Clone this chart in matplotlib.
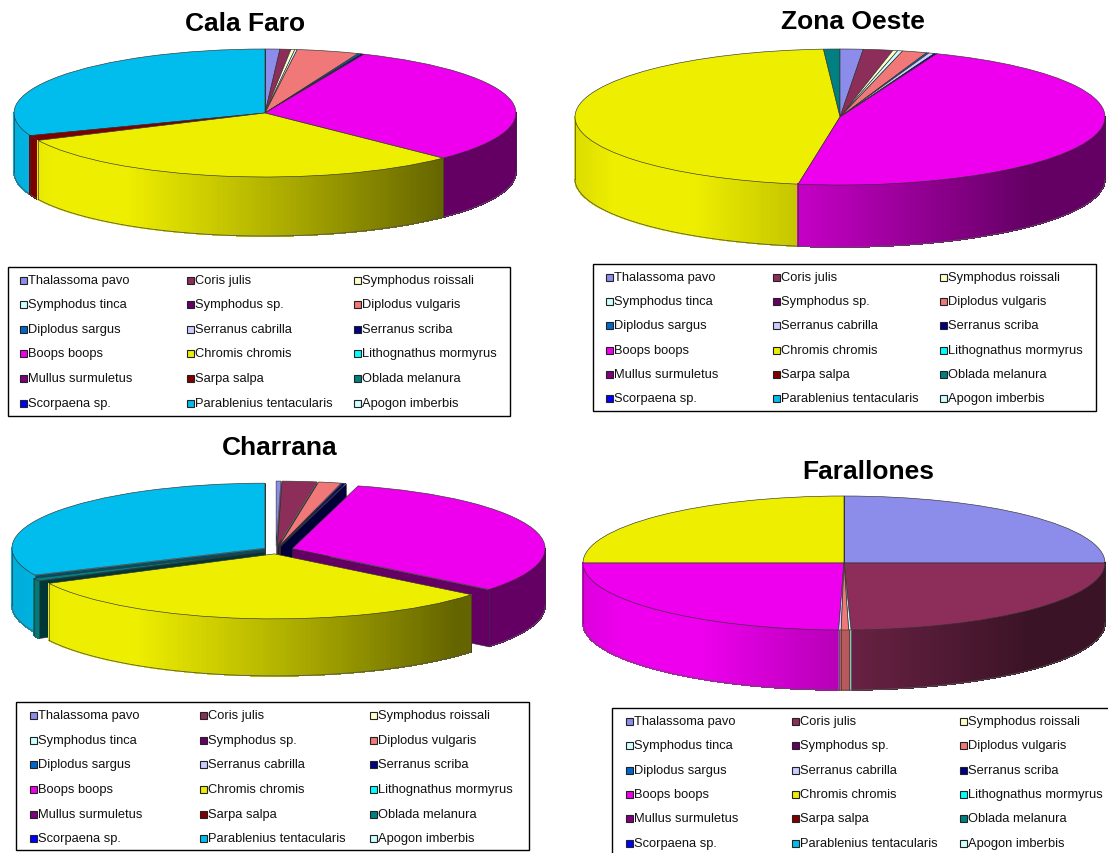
import numpy as np
import matplotlib
matplotlib.use("Agg")
import matplotlib.pyplot as plt
from matplotlib.collections import PolyCollection
from matplotlib.patches import Rectangle

plt.rcParams["font.family"] = ["Liberation Sans", "DejaVu Sans"]

W, H = 1108, 854

species = ["Thalassoma pavo", "Coris julis", "Symphodus roissali",
           "Symphodus tinca", "Symphodus sp.", "Diplodus vulgaris",
           "Diplodus sargus", "Serranus cabrilla", "Serranus scriba",
           "Boops boops", "Chromis chromis", "Lithognathus mormyrus",
           "Mullus surmuletus", "Sarpa salpa", "Oblada melanura",
           "Scorpaena sp.", "Parablenius tentacularis", "Apogon imberbis"]
colors = ["#8C8CEB", "#8C2D5A", "#FFFFCC", "#CCFFFF", "#660066", "#F07878",
          "#0066CC", "#CCCCFF", "#000080", "#EE00EE", "#EEEE00", "#00FFFF",
          "#800080", "#800000", "#008080", "#0000FF", "#00BDEE", "#CCFFFF"]

# percentages, same order as species
cala_faro = [0.95, 0.7, 0.25, 0.15, 0, 4.0, 0.2, 0.05, 0.15, 31.0, 30.5, 0, 0, 1.3, 0, 0, 30.75, 0]
zona_oeste = [1.4, 1.8, 0.3, 0.3, 0, 1.5, 0.15, 0.35, 0.15, 46.6, 46.5, 0, 0, 0, 1.0, 0, 0, 0]
charrana = [0.3, 2.2, 0, 0, 0, 1.45, 0, 0.05, 0.2, 31.6, 31.7, 0, 0, 0, 0.7, 0, 31.8, 0]
farallones = [25.0, 24.57, 0, 0.15, 0, 0.45, 0, 0.16, 0, 24.67, 25.0, 0, 0, 0, 0, 0, 0, 0]

charrana_explode = [0.06, 0.06, 0, 0, 0, 0.06, 0, 0.06, 0.06, 0.067, 0.06, 0, 0, 0, 0.052, 0, 0.052, 0]

# layout in pixels: centre x, centre y, radius x, radius y, depth
panels = [
    ("Cala Faro", cala_faro, None, (265, 114, 251, 64, 59), (245, 24),
     (8, 268, 510, 417), (23, 190, 357), (281, 305, 330, 354, 379, 404)),
    ("Zona Oeste", zona_oeste, None, (840, 118, 265, 68, 62), (853, 22),
     (593, 265, 1096, 412), (609, 776, 943), (278, 302, 326, 351, 375, 399)),
    ("Charrana", charrana, charrana_explode, (276, 551, 253, 65, 57), (280, 448),
     (16, 703, 529, 851), (33, 203, 373), (716, 741, 765, 790, 815, 839)),
    ("Farallones", farallones, None, (844, 564, 261, 67, 60), (868, 472),
     (612, 709, 1112, 858), (629, 795, 963), (722, 746, 771, 795, 819, 844)),
]


# side walls go from lit on the left to dark on the right
def shade(u):
    return np.interp(u, [-1.0, -0.85, -0.55, 0.0, 0.72, 1.0], [0.92, 1.0, 1.0, 0.76, 0.42, 0.42])


def draw_pie(fig, values, explode, geom):
    cx, cy, rx, ry, depth = geom
    xlim, ylim = 1.3, 1.3
    d = depth / ry
    ylow = -1.3 - d
    left = (cx - xlim * rx) / W
    bottom = 1 - (cy - ylow * ry) / H
    ax = fig.add_axes([left, bottom, 2 * xlim * rx / W, (ylim - ylow) * ry / H])

    vals = np.array(values, dtype=float)
    keep = vals > 0
    cols = [c for c, k in zip(colors, keep) if k]
    expl = None if explode is None else np.array(explode)[keep]
    wedges, _ = ax.pie(vals[keep], colors=cols, explode=expl, startangle=90,
                       counterclock=False, normalize=True,
                       wedgeprops=dict(edgecolor="#333333", linewidth=0.45))
    ax.set_aspect("auto")
    ax.set_xlim(-xlim, xlim)
    ax.set_ylim(ylow, ylim)
    ax.patch.set_alpha(0)

    # back wedges first, so nearer ones paint over them
    order = sorted(wedges, key=lambda w: -np.sin(np.radians((w.theta1 + w.theta2) / 2)))
    z = 2
    for w in order:
        x0, y0 = w.center
        base = np.array(matplotlib.colors.to_rgb(w.get_facecolor()))
        t1, t2 = np.radians(w.theta1), np.radians(w.theta2)

        # radial cut faces, only the ones turned to the viewer
        for t, sign in ((t1, 1), (t2, -1)):
            if sign * np.cos(t) <= 0:
                continue
            px, py = x0 + np.cos(t), y0 + np.sin(t)
            face = [[(x0, y0), (px, py), (px, py - d), (x0, y0 - d)]]
            ax.add_collection(PolyCollection(face, facecolors=[base * 0.42], edgecolors="#333333",
                                             linewidths=0.4, zorder=z))
            z += 1

        # outer wall, lower half of the rim only, cut in thin strips
        ts = np.linspace(t1, t2, max(2, int(np.degrees(t2 - t1) / 1.0) + 2))
        strips, fc = [], []
        for a, b in zip(ts[:-1], ts[1:]):
            if np.sin((a + b) / 2) > 0:
                continue
            xa, ya = x0 + np.cos(a), y0 + np.sin(a)
            xb, yb = x0 + np.cos(b), y0 + np.sin(b)
            strips.append([(xa, ya), (xb, yb), (xb, yb - d), (xa, ya - d)])
            fc.append(base * shade((xa + xb) / 2))
        if strips:
            ax.add_collection(PolyCollection(strips, facecolors=fc, edgecolors=fc, linewidths=0.6,
                                             antialiaseds=False, zorder=z))
            z += 1
            xs = [s[0][0] for s in strips] + [strips[-1][1][0]]
            ys = [s[0][1] - d for s in strips] + [strips[-1][1][1] - d]
            ax.plot(xs, ys, color="#555555", lw=0.6, zorder=z)
            ax.plot([xs[0], xs[0]], [ys[0], ys[0] + d], color="#333333", lw=0.45, zorder=z)
            ax.plot([xs[-1], xs[-1]], [ys[-1], ys[-1] + d], color="#333333", lw=0.45, zorder=z)
            z += 1

        w.set_zorder(z)
        z += 1


def draw_legend(ax, box, col_x, row_y):
    x0, y0, x1, y1 = box
    ax.add_patch(Rectangle((x0, y0), x1 - x0, y1 - y0, fc="white", ec="black", lw=1.0, zorder=1))
    for i, (name, col) in enumerate(zip(species, colors)):
        x = col_x[i % 3]
        y = row_y[i // 3]
        ax.add_patch(Rectangle((x - 3.5, y - 3.5), 7, 7, fc=col, ec="#222222", lw=0.8, zorder=2))
        ax.text(x + 5, y, name, fontsize=9.25, va="center", ha="left", color="#111111", zorder=3)


fig = plt.figure(figsize=(W / 100, H / 100), dpi=100)

page = fig.add_axes([0, 0, 1, 1])
page.set_xlim(0, W)
page.set_ylim(H, 0)
page.axis("off")

for title, values, explode, geom, title_xy, box, col_x, row_y in panels:
    draw_pie(fig, values, explode, geom)
    page.text(title_xy[0], title_xy[1], title, fontsize=19, fontweight="bold", ha="center", va="center")
    draw_legend(page, box, col_x, row_y)

fig.savefig("out.png", dpi=100)
